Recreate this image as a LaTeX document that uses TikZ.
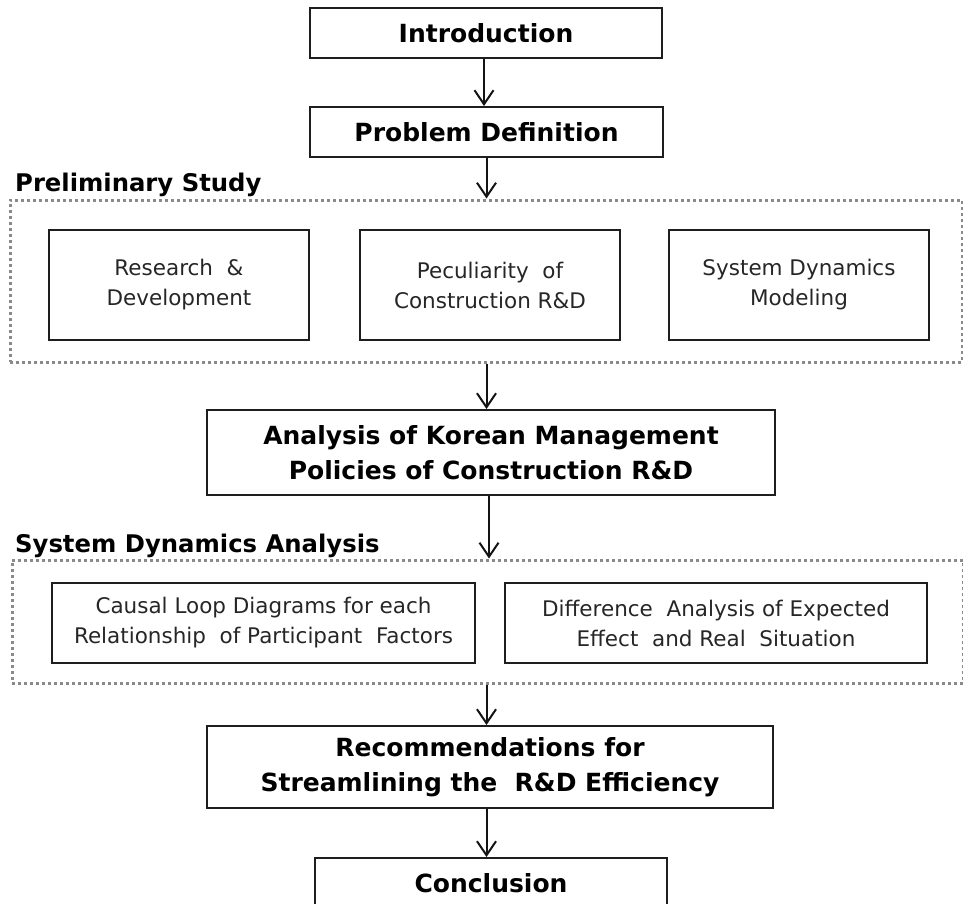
\documentclass[tikz,border=0pt]{standalone}
\usepackage{fontspec}
\setmainfont{DejaVu Sans}
\usetikzlibrary{arrows.meta}
\definecolor{boxline}{HTML}{1E1E1E}
\definecolor{dotline}{HTML}{8A8A8A}
\tikzset{
  stagebox/.style={draw=boxline, line width=2pt, align=center, inner sep=0pt,
    font=\fontsize{25}{35}\selectfont\bfseries},
  topicbox/.style={draw=boxline, line width=1.8pt, align=center, inner sep=0pt,
    font=\fontsize{21.5}{30}\selectfont, text=black!85},
  groupbox/.style={draw=dotline, line width=3pt, dash pattern=on 3pt off 3pt, inner sep=0pt},
  grouplabel/.style={anchor=base west, inner sep=0pt, font=\fontsize{24.3}{28}\selectfont\bfseries},
  flow/.style={draw=black!92, line width=2pt, -{Straight Barb[length=14pt,width=19pt,line width=2pt]}}
}
\begin{document}
\begin{tikzpicture}[x=1pt,y=-1pt]
  \useasboundingbox (0,0) rectangle (963,904);
  \clip (0,0) rectangle (963,904);

  % main sequence of stages
  \node[stagebox, minimum width=352pt, minimum height=50pt] (intro) at (486,33) {Introduction};
  \node[stagebox, minimum width=353pt, minimum height=50pt] (prob) at (486.5,132) {Problem Definition};

  % preliminary study group
  \node[groupbox, minimum width=952pt, minimum height=162pt] (prelim) at (486,281) {};
  \node[grouplabel] (prelimlabel) at (15,192) {Preliminary Study};
  \node[topicbox, minimum width=260pt, minimum height=110pt] (rd) at (179,285) {Research \ \&\\Development};
  \node[topicbox, minimum width=260pt, minimum height=110pt] (pec) at (490,285) {Peculiarity \ of\\Construction R\&D};
  \node[topicbox, minimum width=260pt, minimum height=110pt] (sdm) at (799,285) {System Dynamics\\Modeling};

  \node[stagebox, minimum width=568pt, minimum height=85pt] (korea) at (491,452.5)
    {Analysis of Korean Management\\Policies of Construction R\&D};

  % system dynamics analysis group
  \node[groupbox, minimum width=951pt, minimum height=123pt] (sda) at (487.5,621.5) {};
  \node[grouplabel] (sdalabel) at (15,552) {System\hspace{0.35em}Dynamics Analysis};
  \node[topicbox, minimum width=423pt, minimum height=80pt] (cld) at (263.5,623)
    {Causal Loop Diagrams for each\\Relationship \ of Participant \ Factors};
  \node[topicbox, minimum width=422pt, minimum height=80pt] (diff) at (716,623)
    {Difference \ Analysis of Expected\\Effect \ and Real \ Situation};

  \node[stagebox, minimum width=566pt, minimum height=82pt] (rec) at (490,767)
    {Recommendations for\\Streamlining the \ R\&D Efficiency};
  \node[stagebox, minimum width=352pt, minimum height=50pt] (concl) at (491,883) {Conclusion};

  % connectors
  \draw[flow] ([xshift=-2pt]intro.south) -- ([xshift=-2pt]intro.south |- prob.north);
  \draw[flow] (prob.south) -- (prob.south |- prelim.north);
  \draw[flow] (prob.south |- prelim.south) -- (prob.south |- korea.north);
  \draw[flow] ([xshift=-2pt]korea.south) -- ([xshift=-2pt]korea.south |- sda.north);
  \draw[flow] (prob.south |- sda.south) -- (prob.south |- rec.north);
  \draw[flow] (prob.south |- rec.south) -- (prob.south |- concl.north);
\end{tikzpicture}
\end{document}
